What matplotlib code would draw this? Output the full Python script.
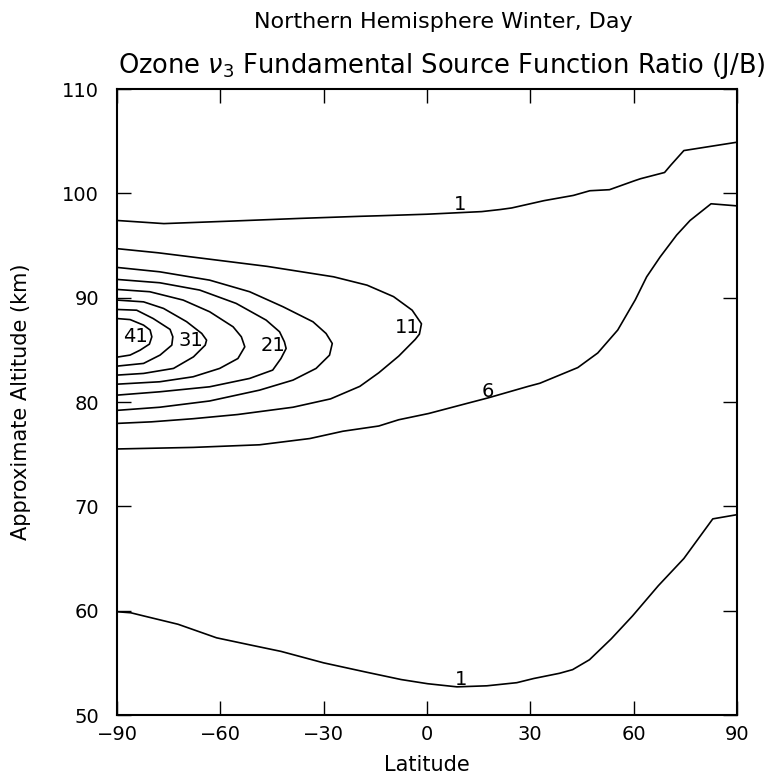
import matplotlib
matplotlib.use('Agg')
import matplotlib.pyplot as plt
import numpy as np

# contour lines (latitude, altitude km)
c1_top_lat = [-90, -76.4, -56.1, -36.8, -19.3, -14, 0, 9.5, 15.9, 21.3, 24.6, 34, 42.5,
              47.3, 53, 60.2, 62, 69, 70.8, 74.6, 82.3, 90]
c1_top_alt = [97.4, 97.1, 97.35, 97.6, 97.8, 97.85, 98.0, 98.15, 98.25, 98.45, 98.6, 99.3,
              99.8, 100.25, 100.35, 101.2, 101.4, 102.0, 102.7, 104.1, 104.5, 104.9]

c1_bot_lat = [-90, -86, -82.3, -72.3, -61.1, -51.1, -42.4, -30, -17.5, -7.5, 0.2, 8.7, 17.4,
              26.1, 31, 38.5, 42.3, 47.2, 53.5, 59.7, 67.2, 74.6, 83, 90]
c1_bot_alt = [59.9, 59.8, 59.5, 58.7, 57.4, 56.7, 56.1, 55.0, 54.1, 53.4, 53.0, 52.7, 52.8,
              53.1, 53.5, 54.0, 54.35, 55.3, 57.3, 59.5, 62.4, 65.0, 68.8, 69.2]

c6_lat = [-90, -67.9, -48.6, -34, -24.4, -14, -8.2, 0.5, 12, 17.8, 29.4, 32.8, 43.8, 49.6,
          55.4, 60.5, 63.8, 67.7, 72.5, 76.4, 82.5, 90]
c6_alt = [75.5, 75.65, 75.9, 76.5, 77.2, 77.7, 78.3, 78.9, 79.9, 80.4, 81.5, 81.8, 83.3, 84.7,
          86.9, 89.8, 92.0, 93.9, 96.0, 97.4, 99.0, 98.8]

c11_lat = [-90, -78, -65.8, -46.4, -27.1, -17.4, -9.7, -4.3, -1.6, -2.2, -3.4, -8.2, -14,
           -19.5, -28, -38.9, -55, -67.9, -80, -90]
c11_alt = [94.7, 94.3, 93.8, 93.0, 92.0, 91.2, 90.1, 88.8, 87.5, 86.5, 86.0, 84.4, 82.8,
           81.5, 80.3, 79.5, 78.8, 78.4, 78.1, 77.95]

c16_lat = [-90, -77.6, -63.1, -51.5, -41.8, -33.1, -29.3, -27.5, -28.3, -32.2, -38.9, -48.6,
           -63.1, -77.6, -90]
c16_alt = [92.9, 92.48, 91.68, 90.57, 89.13, 87.69, 86.57, 85.61, 84.49, 83.22, 82.1, 81.14,
           80.1, 79.5, 79.2]

c21_lat = [-90, -77.6, -66.0, -55.4, -46.7, -42.8, -41.4, -40.9, -42.4, -44.8, -51.5, -63.1,
           -77.6, -90]
c21_alt = [91.75, 91.43, 90.73, 89.45, 87.85, 86.73, 85.77, 85.13, 84.17, 83.06, 82.26,
           81.46, 80.98, 80.66]

c26_lat = [-90, -80.5, -70.8, -63.1, -56.3, -53.9, -52.9, -54.9, -60.2, -67.9, -77.6, -90]
c26_alt = [90.79, 90.57, 89.77, 88.65, 87.21, 86.25, 85.29, 84.17, 83.22, 82.42, 81.94, 81.71]

c31_lat = [-90, -82.3, -76.5, -69.8, -65.4, -64.0, -64.4, -67.8, -73.6, -82.3, -90]
c31_alt = [89.77, 89.6, 88.97, 87.7, 86.57, 85.93, 85.45, 84.33, 83.22, 82.74, 82.58]

c36_lat = [-90, -84.3, -79.5, -74.6, -73.8, -74.1, -77.5, -82.3, -90]
c36_alt = [88.87, 88.8, 88.0, 86.96, 86.25, 85.45, 84.5, 83.7, 83.44]

c41_lat = [-90, -86.2, -82.3, -80.4, -79.9, -80.6, -83.3, -86.2, -90]
c41_alt = [88.0, 87.9, 87.37, 86.9, 86.25, 85.55, 84.97, 84.5, 84.3]

label_text = ['1', '1', '6', '11', '21', '31', '41']
label_lat = [9.7, 10.0, 17.8, -5.8, -44.8, -68.6, -84.8]
label_alt = [98.9, 53.45, 81.0, 87.1, 85.4, 85.9, 86.25]

lines = [(c1_top_lat, c1_top_alt), (c1_bot_lat, c1_bot_alt), (c6_lat, c6_alt),
         (c11_lat, c11_alt), (c16_lat, c16_alt), (c21_lat, c21_alt),
         (c26_lat, c26_alt), (c31_lat, c31_alt), (c36_lat, c36_alt), (c41_lat, c41_alt)]

plt.rcParams['font.family'] = 'DejaVu Sans'

fig = plt.figure(figsize=(7.7, 7.74), dpi=100)
ax = fig.add_axes([0.152, 0.0762, 0.805, 0.8088])

for lat, alt in lines:
    ax.plot(lat, alt, color='black', linewidth=1.2)

for t, x, y in zip(label_text, label_lat, label_alt):
    ax.text(x, y, t, fontsize=14, ha='center', va='center')

ax.set_xlim(-90, 90)
ax.set_ylim(50, 110)
ax.set_xticks(np.arange(-90, 91, 30))
ax.set_yticks(np.arange(50, 111, 10))
ax.tick_params(direction='in', length=10, width=1.0, top=True, right=True,
               labelsize=14)
ax.tick_params(axis='x', pad=7)
ax.tick_params(axis='y', pad=13)
for s in ax.spines.values():
    s.set_linewidth(1.5)

ax.set_xlabel('Latitude', fontsize=15, labelpad=8)
ax.set_ylabel('Approximate Altitude (km)', fontsize=15, labelpad=22)

fig.text(0.576, 0.971, 'Northern Hemisphere Winter, Day', fontsize=16,
         ha='center', va='center')
fig.text(0.153, 0.915, r'Ozone $\nu_3$ Fundamental Source Function Ratio (J/B)',
         fontsize=18.5, ha='left', va='center')

fig.savefig('out.png', dpi=100)
